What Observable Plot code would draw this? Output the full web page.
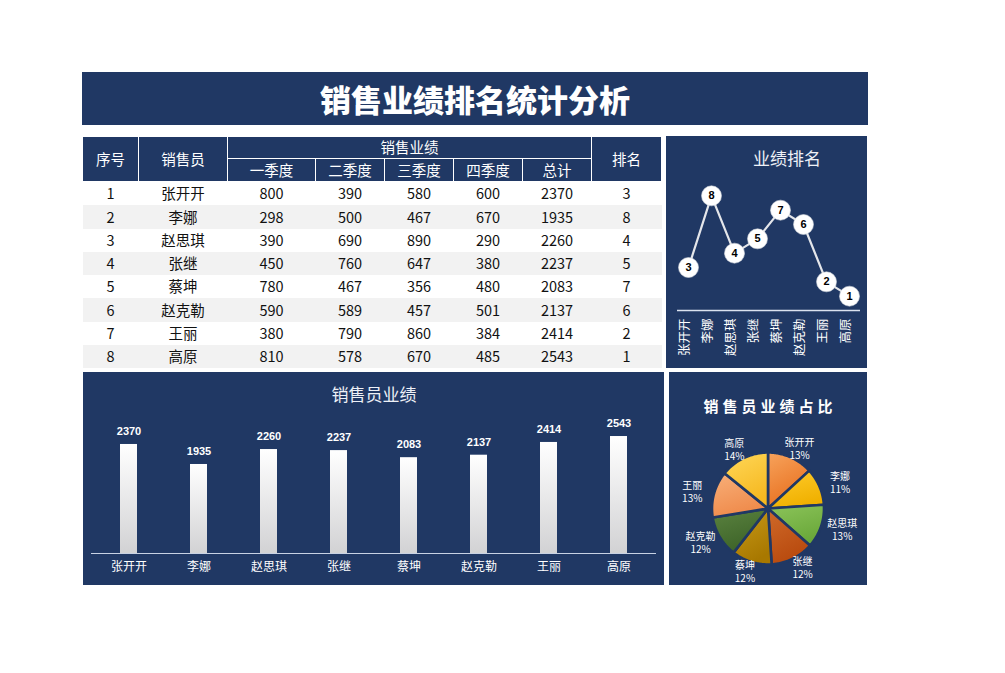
<!DOCTYPE html>
<html><head><meta charset="utf-8">
<script src="https://cdn.jsdelivr.net/npm/d3@7"></script>
<script src="https://cdn.jsdelivr.net/npm/@observablehq/plot@0.6"></script>
<style>
body{margin:0;background:#fff;font-family:"Noto Sans CJK SC","Noto Sans",sans-serif;}
#page{position:relative;width:1005px;height:673px;overflow:hidden;}
.panel{position:absolute;background:#203864;overflow:hidden;}
.ptitle{position:absolute;color:#fff;line-height:1;white-space:nowrap;transform:translateX(-50%);}
.panel svg{position:absolute;left:0;top:0;}
#tbl{position:absolute;left:82px;top:136px;}
table{border-collapse:collapse;table-layout:fixed;width:579px;}
th{background:#203864;color:#fff;font-weight:normal;font-size:14.5px;border:1px solid #fff;padding:0;line-height:1;}
tr.h1 th{height:21px;} tr.h2 th{height:22px;}
td{text-align:center;font-size:14.5px;color:#111;padding:0;height:23.25px;line-height:1;}
tbody tr:nth-child(even) td{background:#f2f2f2;}
</style></head><body>
<div id="page">
  <div class="panel" style="left:82px;top:72px;width:786px;height:53px;">
    <div class="ptitle" style="left:393px;top:11px;font-size:31px;font-weight:900;">销售业绩排名统计分析</div>
  </div>
  <div id="tbl"></div>
  <div class="panel" id="rank" style="left:666px;top:136px;width:201px;height:232px;">
    <div class="ptitle" style="left:121px;top:13px;font-size:17px;color:#eef1f7;">业绩排名</div>
  </div>
  <div class="panel" id="bars" style="left:83px;top:372px;width:581px;height:213px;">
    <div class="ptitle" style="left:291px;top:13px;font-size:17px;color:#eef1f7;">销售员业绩</div>
  </div>
  <div class="panel" id="pie" style="left:669px;top:372px;width:198px;height:213px;">
    <div class="ptitle" style="left:101px;top:26px;font-size:15px;font-weight:bold;letter-spacing:4px;">销售员业绩占比</div>
  </div>
</div>
<script>
const names = ["张开开","李娜","赵思琪","张继","蔡坤","赵克勒","王丽","高原"];
const q1 = [800,298,390,450,780,590,380,810];
const q2 = [390,500,690,760,467,589,790,578];
const q3 = [580,467,890,647,356,457,860,670];
const q4 = [600,670,290,380,480,501,384,485];
const totals = [2370,1935,2260,2237,2083,2137,2414,2543];
const ranks = [3,8,4,5,7,6,2,1];
const headLeft = ["序号","销售员"];
const headGroup = "销售业绩";
const quarterLabels = ["一季度","二季度","三季度","四季度","总计"];
const headRight = "排名";
const pieLight = ["#f7a35c","#ffcd2e","#8cc45a","#d06a2a","#c99b1a","#5b8340","#f8b07a","#ffd85a"];
const pieDark  = ["#e8701f","#f0b000","#6aa83a","#b84a0e","#a87800","#3d6328","#ef8a4a","#f6b820"];

const navy = "#203864";

// ---- table ----
const colW = [56,89,88,69,69,69,69,70];
let html = `<table><colgroup>${colW.map(w=>`<col style="width:${w}px">`).join("")}</colgroup>
<thead><tr class="h1"><th rowspan="2">${headLeft[0]}</th><th rowspan="2">${headLeft[1]}</th><th colspan="5">${headGroup}</th><th rowspan="2">${headRight}</th></tr>
<tr class="h2">${quarterLabels.map(l=>`<th>${l}</th>`).join("")}</tr></thead><tbody>`;
names.forEach((n,i)=>{
  html += `<tr>${[i+1,n,q1[i],q2[i],q3[i],q4[i],totals[i],ranks[i]].map(v=>`<td>${v}</td>`).join("")}</tr>`;
});
html += "</tbody></table>";
document.getElementById("tbl").innerHTML = html;

// ---- rank chart ----
const rankData = names.map((n,i)=>({name:n, rank:ranks[i]}));
const rankPlot = Plot.plot({
  width:201, height:232, marginLeft:11, marginRight:7, marginTop:45, marginBottom:58,
  style:{background:"transparent", overflow:"visible", fontFamily:"Noto Sans CJK SC"},
  x:{type:"point", domain:names, padding:0.454, axis:null},
  y:{domain:[0,9], axis:null},
  marks:[
    Plot.ruleY([0], {stroke:"#dbe2ef", strokeWidth:1.5}),
    Plot.line(rankData, {x:"name", y:"rank", stroke:"#e4e6ea", strokeWidth:2.2}),
    Plot.dot(rankData, {x:"name", y:"rank", r:10, fill:"#fff", stroke:"#cfd3da", strokeWidth:0.6}),
    Plot.text(rankData, {x:"name", y:"rank", text:d=>String(d.rank), fill:"#000", fontWeight:"bold", fontSize:11, fontFamily:"Arial"}),
    Plot.text(names, {x:d=>d, frameAnchor:"bottom", dy:8, rotate:-90, textAnchor:"end", fill:"#fff", fontSize:12.5})
  ]
});
document.getElementById("rank").appendChild(rankPlot);

// ---- bar chart ----
const barData = names.map((n,i)=>({name:n, total:totals[i]}));
const barPlot = Plot.plot({
  width:581, height:213, marginLeft:8, marginRight:8, marginTop:43, marginBottom:32,
  style:{background:"transparent", overflow:"visible", fontFamily:"Noto Sans CJK SC"},
  x:{domain:names, paddingInner:0.76, paddingOuter:0.38, axis:null},
  y:{domain:[0,3000], axis:null},
  marks:[
    Plot.barY(barData, {x:"name", y:"total", fill:"url(#barGrad)"}),
    Plot.ruleY([0], {stroke:"#c8d2e4", strokeWidth:1.2}),
    Plot.text(barData, {x:"name", y:"total", text:d=>String(d.total), dy:-13, fill:"#fff", fontWeight:"bold", fontSize:11, fontFamily:"Arial"}),
    Plot.text(names, {x:d=>d, frameAnchor:"bottom", dy:17, fill:"#fff", fontSize:12})
  ]
});
{
  const defs = d3.select(barPlot).insert("defs", ":first-child");
  const g = defs.append("linearGradient").attr("id","barGrad").attr("x1",0).attr("y1",0).attr("x2",0).attr("y2",1);
  g.append("stop").attr("offset","0%").attr("stop-color","#ffffff");
  g.append("stop").attr("offset","100%").attr("stop-color","#d2d2d4");
}
document.getElementById("bars").appendChild(barPlot);

// ---- pie chart ----
const sum = d3.sum(totals);
const arcs = d3.pie().sort(null)(totals);
const unit = 56, cx = 98.5, cy = 136, W = 198, H = 213;
const slices = arcs.map((a,i)=>{
  const pts = [{x:0,y:0}];
  const steps = 48;
  for (let k=0;k<=steps;k++){
    const t = a.startAngle + (a.endAngle-a.startAngle)*k/steps;
    pts.push({x:Math.sin(t), y:Math.cos(t)});
  }
  pts.push({x:0,y:0});
  return pts;
});
const labelRx = 1.4, labelRy = 1.17;
const labels = arcs.map((a,i)=>{
  const m = (a.startAngle+a.endAngle)/2;
  return {x:Math.sin(m)*labelRx, y:Math.cos(m)*labelRy, text:names[i]+"\n"+Math.round(totals[i]/sum*100)+"%"};
});
const piePlot = Plot.plot({
  width:W, height:H, margin:0,
  style:{background:"transparent", overflow:"visible", fontFamily:"Noto Sans CJK SC"},
  x:{domain:[-cx/unit, (W-cx)/unit], axis:null},
  y:{domain:[-(H-cy)/unit, cy/unit], axis:null},
  marks:[
    ...slices.map((pts,i)=>Plot.line(pts, {x:"x", y:"y", fill:`url(#pie${i})`, stroke:navy, strokeWidth:2.6, strokeLinejoin:"round"})),
    Plot.dot([{x:0,y:0}], {x:"x", y:"y", r:3, fill:navy}),
    Plot.text(labels, {x:"x", y:"y", text:"text", fill:"#fff", fontSize:10, lineHeight:1.3, letterSpacing:0.5})
  ]
});
{
  const defs = d3.select(piePlot).insert("defs", ":first-child");
  pieLight.forEach((c,i)=>{
    const g = defs.append("linearGradient").attr("id","pie"+i).attr("x1",0).attr("y1",0).attr("x2",0.4).attr("y2",1);
    g.append("stop").attr("offset","0%").attr("stop-color",c);
    g.append("stop").attr("offset","100%").attr("stop-color",pieDark[i]);
  });
}
document.getElementById("pie").appendChild(piePlot);
</script>
</body></html>
